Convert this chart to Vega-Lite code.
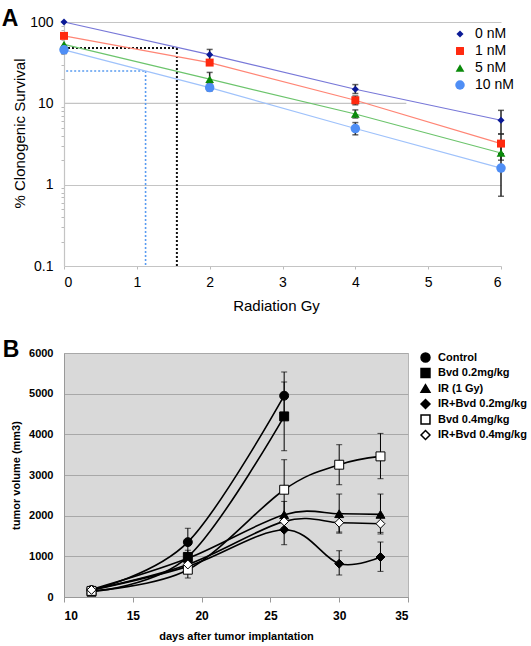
{
  "$schema": "https://vega.github.io/schema/vega-lite/v6.json",
  "background": "white",
  "padding": {"left": 1, "top": 8, "right": 0, "bottom": 0},
  "spacing": 25,
  "config": {
    "font": "Liberation Sans",
    "axis": {"labelFont": "Liberation Sans", "titleFont": "Liberation Sans", "labelColor": "#000", "titleColor": "#000"}
  },
  "resolve": {
    "scale": {"x": "independent", "y": "independent", "fill": "independent", "shape": "independent", "size": "independent", "stroke": "independent"}
  },
  "vconcat": [
    {
      "width": 437,
      "height": 244,
      "view": {"stroke": null},
      "layer": [
        {
          "data": {"values": [{"gy": 0, "gy2": 4.7, "surv": 10, "surv2": 10}]},
          "mark": {"type": "rule", "color": "#c4c4c4", "strokeWidth": 1.2},
          "encoding": {
            "x": {"field": "gy", "type": "quantitative", "scale": {"domain": [0, 6], "nice": false},
              "axis": {"title": "Radiation Gy", "values": [0, 1, 2, 3, 4, 5, 6], "format": "d", "grid": false, "labelFontSize": 14, "titleFontSize": 15, "titleFontWeight": "normal", "labelPadding": 6, "titlePadding": 9, "tickSize": 3, "tickColor": "#bbb", "domainColor": "#c4c4c4", "domainWidth": 1.2, "titleX": 212}},
            "x2": {"field": "gy2"},
            "y": {"field": "surv", "type": "quantitative", "scale": {"type": "log", "domain": [0.1, 100], "nice": false},
              "axis": {"title": "% Clonogenic Survival", "titleFontSize": 15, "titleFontWeight": "normal", "labelFontSize": 14, "format": "~g",
                "values": [0.1, 0.2, 0.3, 0.4, 0.5, 0.6, 0.7, 0.8, 0.9, 1, 2, 3, 4, 5, 6, 7, 8, 9, 10, 20, 30, 40, 50, 60, 70, 80, 90, 100],
                "labelExpr": "(datum.value == 0.1 || datum.value == 1 || datum.value == 10 || datum.value == 100) ? datum.label : ''",
                "tickSize": {"condition": {"test": "datum.value == 0.1 || datum.value == 1 || datum.value == 10 || datum.value == 100", "value": 0}, "value": 3},
                "tickColor": "#bbb",
                "grid": true,
                "gridColor": "#c4c4c4",
                "gridWidth": 1.2,
                "gridOpacity": {"condition": {"test": "datum.value == 1 || datum.value == 100", "value": 1}, "value": 0},
                "domainColor": "#c4c4c4", "domainWidth": 1.2, "labelPadding": 11, "titlePadding": 2, "titleY": 111}},
            "y2": {"field": "surv2"}
          }
        },
        {
          "data": {"values": [{"panel": "A"}]},
          "mark": {"type": "text", "align": "left", "baseline": "alphabetic", "fontSize": 23, "fontWeight": "bold", "font": "Liberation Sans", "color": "#000"},
          "encoding": {
            "x": {"datum": -0.855, "type": "quantitative"},
            "y": {"datum": 88.5, "type": "quantitative"},
            "text": {"field": "panel", "type": "nominal"}
          }
        },
        {
          "data": {"values": [
            {"ref": "50%", "gy": 0, "gy2": 1.55, "surv": 48, "surv2": 48},
            {"ref": "50%", "gy": 1.55, "gy2": 1.55, "surv": 48, "surv2": 0.1},
            {"ref": "25%", "gy": 0.03, "gy2": 1.12, "surv": 25, "surv2": 25},
            {"ref": "25%", "gy": 1.12, "gy2": 1.12, "surv": 25, "surv2": 0.1}
          ]},
          "layer": [
            {
              "transform": [{"filter": "datum.ref == '50%'"}],
              "mark": {"type": "rule", "color": "#111", "strokeWidth": 2, "strokeDash": [2, 2]},
              "encoding": {"x": {"field": "gy", "type": "quantitative"}, "x2": {"field": "gy2"}, "y": {"field": "surv", "type": "quantitative"}, "y2": {"field": "surv2"}}
            },
            {
              "transform": [{"filter": "datum.ref == '25%'"}],
              "mark": {"type": "rule", "color": "#5a9cf0", "strokeWidth": 1.6, "strokeDash": [2, 2]},
              "encoding": {"x": {"field": "gy", "type": "quantitative"}, "x2": {"field": "gy2"}, "y": {"field": "surv", "type": "quantitative"}, "y2": {"field": "surv2"}}
            }
          ]
        },
        {
          "data": {"values": [
            {"dose": "0 nM", "gy": 2, "lo": 34, "hi": 46},
            {"dose": "0 nM", "gy": 4, "lo": 13.2, "hi": 17},
            {"dose": "0 nM", "gy": 6, "lo": 4.2, "hi": 8.2},
            {"dose": "1 nM", "gy": 4, "lo": 9.6, "hi": 12.3},
            {"dose": "1 nM", "gy": 6, "lo": 2.4, "hi": 4.2},
            {"dose": "5 nM", "gy": 2, "lo": 16.5, "hi": 24},
            {"dose": "5 nM", "gy": 4, "lo": 6.6, "hi": 8.3},
            {"dose": "5 nM", "gy": 6, "lo": 2, "hi": 3},
            {"dose": "10 nM", "gy": 0, "lo": 41, "hi": 50},
            {"dose": "10 nM", "gy": 2, "lo": 14.2, "hi": 17.5},
            {"dose": "10 nM", "gy": 4, "lo": 4.1, "hi": 5.8},
            {"dose": "10 nM", "gy": 6, "lo": 0.72, "hi": 2.4}
          ]},
          "layer": [
            {"mark": {"type": "rule", "color": "#222", "strokeWidth": 1.5},
             "encoding": {"x": {"field": "gy", "type": "quantitative"}, "y": {"field": "lo", "type": "quantitative"}, "y2": {"field": "hi"}}},
            {"mark": {"type": "tick", "color": "#222", "orient": "horizontal", "size": 6, "thickness": 1.5},
             "encoding": {"x": {"field": "gy", "type": "quantitative"}, "y": {"field": "lo", "type": "quantitative"}}},
            {"mark": {"type": "tick", "color": "#222", "orient": "horizontal", "size": 6, "thickness": 1.5},
             "encoding": {"x": {"field": "gy", "type": "quantitative"}, "y": {"field": "hi", "type": "quantitative"}}}
          ]
        },
        {
          "data": {"values": [
            {"dose": "0 nM", "gy": 0, "surv": 100}, {"dose": "0 nM", "gy": 2, "surv": 39.7}, {"dose": "0 nM", "gy": 4, "surv": 14.9}, {"dose": "0 nM", "gy": 6, "surv": 6.2},
            {"dose": "1 nM", "gy": 0, "surv": 67.5}, {"dose": "1 nM", "gy": 2, "surv": 31.7}, {"dose": "1 nM", "gy": 4, "surv": 10.9}, {"dose": "1 nM", "gy": 6, "surv": 3.2},
            {"dose": "5 nM", "gy": 0, "surv": 53}, {"dose": "5 nM", "gy": 2, "surv": 19.8}, {"dose": "5 nM", "gy": 4, "surv": 7.4}, {"dose": "5 nM", "gy": 6, "surv": 2.45},
            {"dose": "10 nM", "gy": 0, "surv": 45.5}, {"dose": "10 nM", "gy": 2, "surv": 15.6}, {"dose": "10 nM", "gy": 4, "surv": 4.9}, {"dose": "10 nM", "gy": 6, "surv": 1.6}
          ]},
          "layer": [
            {
              "mark": {"type": "line", "strokeWidth": 1.2},
              "encoding": {
                "x": {"field": "gy", "type": "quantitative"},
                "y": {"field": "surv", "type": "quantitative"},
                "stroke": {"field": "dose", "type": "nominal", "scale": {"domain": ["10 nM", "5 nM", "1 nM", "0 nM"], "range": ["#9fc2fb", "#6cc46c", "#ff8575", "#7878d8"]}, "legend": null}
              }
            },
            {
              "mark": {"type": "point", "filled": true, "opacity": 1, "strokeWidth": 0},
              "encoding": {
                "x": {"field": "gy", "type": "quantitative"},
                "y": {"field": "surv", "type": "quantitative"},
                "fill": {"field": "dose", "type": "nominal", "scale": {"domain": ["0 nM", "1 nM", "5 nM", "10 nM"], "range": ["#0b1a96", "#ff2a10", "#0a8a0a", "#4f8ef5"]},
                  "legend": {"title": null, "orient": "none", "legendX": 389, "legendY": 5, "labelFontSize": 14, "labelFont": "Liberation Sans", "labelColor": "#000", "labelOffset": 8, "rowPadding": 3, "symbolStrokeWidth": 0, "padding": 0}},
                "shape": {"field": "dose", "type": "nominal", "scale": {"domain": ["0 nM", "1 nM", "5 nM", "10 nM"], "range": ["diamond", "square", "triangle-up", "circle"]},
                  "legend": {"title": null, "orient": "none", "legendX": 389, "legendY": 5, "labelFontSize": 14, "labelFont": "Liberation Sans", "labelColor": "#000", "labelOffset": 8, "rowPadding": 3, "symbolStrokeWidth": 0, "padding": 0}},
                "size": {"field": "dose", "type": "nominal", "scale": {"domain": ["0 nM", "1 nM", "5 nM", "10 nM"], "range": [50, 90, 70, 90]},
                  "legend": {"title": null, "orient": "none", "legendX": 389, "legendY": 5, "labelFontSize": 14, "labelFont": "Liberation Sans", "labelColor": "#000", "labelOffset": 8, "rowPadding": 3, "symbolStrokeWidth": 0, "padding": 0}}
              }
            }
          ]
        }
      ]
    },
    {
      "width": 344,
      "height": 244,
      "view": {"fill": "#d9d9d9", "stroke": "#b5b5b5"},
      "layer": [
        {
          "data": {"values": [
            {"group": "Control", "day": 19, "lo": 1000, "hi": 1690},
            {"group": "Control", "day": 26, "lo": 4370, "hi": 5533},
            {"group": "Bvd 0.2mg/kg", "day": 19, "lo": 850, "hi": 1150},
            {"group": "Bvd 0.2mg/kg", "day": 26, "lo": 3597, "hi": 5287},
            {"group": "IR (1 Gy)", "day": 26, "lo": 1700, "hi": 2350},
            {"group": "IR (1 Gy)", "day": 30, "lo": 1570, "hi": 2532},
            {"group": "IR (1 Gy)", "day": 33, "lo": 1550, "hi": 2532},
            {"group": "IR+Bvd 0.2mg/kg", "day": 26, "lo": 1286, "hi": 2020},
            {"group": "IR+Bvd 0.2mg/kg", "day": 30, "lo": 541, "hi": 1138},
            {"group": "IR+Bvd 0.2mg/kg", "day": 33, "lo": 630, "hi": 1352},
            {"group": "Bvd 0.4mg/kg", "day": 19, "lo": 467, "hi": 870},
            {"group": "Bvd 0.4mg/kg", "day": 26, "lo": 1900, "hi": 3376},
            {"group": "Bvd 0.4mg/kg", "day": 30, "lo": 2761, "hi": 3745},
            {"group": "Bvd 0.4mg/kg", "day": 33, "lo": 2909, "hi": 4023},
            {"group": "IR+Bvd 0.4mg/kg", "day": 30, "lo": 1598, "hi": 2060},
            {"group": "IR+Bvd 0.4mg/kg", "day": 33, "lo": 1589, "hi": 2020}
          ]},
          "layer": [
            {"mark": {"type": "rule", "color": "#000", "strokeWidth": 1},
             "encoding": {
               "x": {"field": "day", "type": "quantitative", "scale": {"domain": [10, 35], "nice": false},
                 "axis": {"title": "days after tumor implantation", "values": [10, 15, 20, 25, 30, 35], "grid": false, "labelFontSize": 12, "labelFontWeight": "bold", "titleFontSize": 11, "titleFontWeight": "bold", "tickSize": 5, "tickColor": "#999", "domainColor": "#999", "labelPadding": 8, "titlePadding": 9}},
               "y": {"field": "lo", "type": "quantitative", "scale": {"domain": [0, 6000], "nice": false},
                 "axis": {"title": "tumor volume (mm3)", "format": "d", "values": [0, 1000, 2000, 3000, 4000, 5000, 6000], "grid": true, "gridColor": "#a8a8a8", "gridWidth": 1, "labelFontSize": 11, "labelFontWeight": "bold", "titleFontSize": 11, "titleFontWeight": "bold", "ticks": false, "domainColor": "#999", "labelPadding": 11, "titlePadding": 7}},
               "y2": {"field": "hi"}}},
            {"mark": {"type": "tick", "color": "#000", "orient": "horizontal", "size": 6, "thickness": 1},
             "encoding": {"x": {"field": "day", "type": "quantitative"}, "y": {"field": "lo", "type": "quantitative"}}},
            {"mark": {"type": "tick", "color": "#000", "orient": "horizontal", "size": 6, "thickness": 1},
             "encoding": {"x": {"field": "day", "type": "quantitative"}, "y": {"field": "hi", "type": "quantitative"}}}
          ]
        },
        {
          "data": {"values": [{"panel": "B"}]},
          "mark": {"type": "text", "align": "left", "baseline": "alphabetic", "fontSize": 23, "fontWeight": "bold", "font": "Liberation Sans", "color": "#000"},
          "encoding": {
            "x": {"datum": 5.55, "type": "quantitative"},
            "y": {"datum": 5892, "type": "quantitative"},
            "text": {"field": "panel", "type": "nominal"}
          }
        },
        {
          "data": {"values": [
            {"group": "Control", "day": 12, "vol": 170}, {"group": "Control", "day": 19, "vol": 1350}, {"group": "Control", "day": 26, "vol": 4950},
            {"group": "Bvd 0.2mg/kg", "day": 12, "vol": 130}, {"group": "Bvd 0.2mg/kg", "day": 19, "vol": 985}, {"group": "Bvd 0.2mg/kg", "day": 26, "vol": 4441},
            {"group": "IR (1 Gy)", "day": 12, "vol": 185}, {"group": "IR (1 Gy)", "day": 19, "vol": 950}, {"group": "IR (1 Gy)", "day": 26, "vol": 2024}, {"group": "IR (1 Gy)", "day": 30, "vol": 2048}, {"group": "IR (1 Gy)", "day": 33, "vol": 2032},
            {"group": "IR+Bvd 0.2mg/kg", "day": 12, "vol": 170}, {"group": "IR+Bvd 0.2mg/kg", "day": 19, "vol": 753}, {"group": "IR+Bvd 0.2mg/kg", "day": 26, "vol": 1655}, {"group": "IR+Bvd 0.2mg/kg", "day": 30, "vol": 819}, {"group": "IR+Bvd 0.2mg/kg", "day": 33, "vol": 983},
            {"group": "Bvd 0.4mg/kg", "day": 12, "vol": 150}, {"group": "Bvd 0.4mg/kg", "day": 19, "vol": 671}, {"group": "Bvd 0.4mg/kg", "day": 26, "vol": 2638}, {"group": "Bvd 0.4mg/kg", "day": 30, "vol": 3253}, {"group": "Bvd 0.4mg/kg", "day": 33, "vol": 3458},
            {"group": "IR+Bvd 0.4mg/kg", "day": 12, "vol": 175}, {"group": "IR+Bvd 0.4mg/kg", "day": 19, "vol": 800}, {"group": "IR+Bvd 0.4mg/kg", "day": 26, "vol": 1860}, {"group": "IR+Bvd 0.4mg/kg", "day": 30, "vol": 1827}, {"group": "IR+Bvd 0.4mg/kg", "day": 33, "vol": 1802}
          ]},
          "layer": [
            {
              "mark": {"type": "line", "color": "#000", "strokeWidth": 1.6, "interpolate": "cardinal", "tension": 0},
              "encoding": {
                "x": {"field": "day", "type": "quantitative"},
                "y": {"field": "vol", "type": "quantitative"},
                "detail": {"field": "group", "type": "nominal"}
              }
            },
            {
              "mark": {"type": "point", "filled": true, "opacity": 1, "stroke": "#000", "strokeWidth": 1},
              "encoding": {
                "x": {"field": "day", "type": "quantitative"},
                "y": {"field": "vol", "type": "quantitative"},
                "fill": {"field": "group", "type": "nominal", "scale": {"domain": ["Control", "Bvd 0.2mg/kg", "IR (1 Gy)", "IR+Bvd 0.2mg/kg", "Bvd 0.4mg/kg", "IR+Bvd 0.4mg/kg"], "range": ["#000", "#000", "#000", "#000", "#fff", "#fff"]},
                  "legend": {"title": null, "orient": "none", "legendX": 356, "legendY": -1, "labelFontSize": 11, "labelFontWeight": "bold", "labelFont": "Liberation Sans", "labelColor": "#000", "labelOffset": 7, "rowPadding": 0.5, "padding": 0,
                    "encode": {"symbols": {"update": {"stroke": {"value": "#000"}, "strokeWidth": {"value": 1}}}}}},
                "shape": {"field": "group", "type": "nominal", "scale": {"domain": ["Control", "Bvd 0.2mg/kg", "IR (1 Gy)", "IR+Bvd 0.2mg/kg", "Bvd 0.4mg/kg", "IR+Bvd 0.4mg/kg"], "range": ["circle", "square", "triangle-up", "diamond", "square", "diamond"]},
                  "legend": {"title": null, "orient": "none", "legendX": 356, "legendY": -1, "labelFontSize": 11, "labelFontWeight": "bold", "labelFont": "Liberation Sans", "labelColor": "#000", "labelOffset": 7, "rowPadding": 0.5, "padding": 0,
                    "encode": {"symbols": {"update": {"stroke": {"value": "#000"}, "strokeWidth": {"value": 1}}}}}},
                "size": {"field": "group", "type": "nominal", "scale": {"domain": ["Control", "Bvd 0.2mg/kg", "IR (1 Gy)", "IR+Bvd 0.2mg/kg", "Bvd 0.4mg/kg", "IR+Bvd 0.4mg/kg"], "range": [80, 80, 70, 45, 64, 45]},
                  "legend": {"title": null, "orient": "none", "legendX": 356, "legendY": -1, "labelFontSize": 11, "labelFontWeight": "bold", "labelFont": "Liberation Sans", "labelColor": "#000", "labelOffset": 7, "rowPadding": 0.5, "padding": 0,
                    "encode": {"symbols": {"update": {"stroke": {"value": "#000"}, "strokeWidth": {"value": 1}}}}}}
              }
            }
          ]
        }
      ]
    }
  ]
}
